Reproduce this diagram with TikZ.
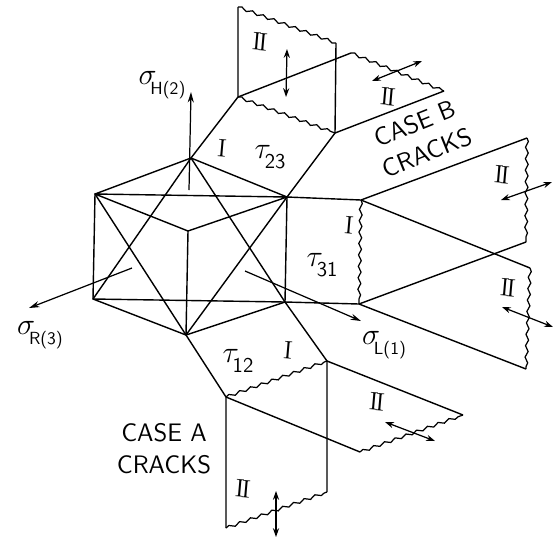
\documentclass[tikz,border=0pt]{standalone}
\usepackage{amsmath,amssymb}
\usepackage{tikz}
\usetikzlibrary{decorations.pathmorphing,arrows.meta}

\newcommand{\strs}[2]{$#1$\kern-3.5pt\raisebox{-0.8ex}{\sffamily #2}}

\begin{document}
\begin{tikzpicture}[
  x=0.02cm, y=-0.02cm,
  edge/.style={line width=0.8pt},
  crack/.style={line width=0.7pt, decorate, decoration={snake, amplitude=0.8pt, segment length=6.5pt}},
  axis/.style={line width=0.7pt, -{Stealth[length=6pt,width=3.5pt]}},
  shear/.style={line width=0.7pt, {Stealth[length=5pt,width=3.5pt]}-{Stealth[length=5pt,width=3.5pt]}},
  mode/.style={font=\Large\rmfamily, inner sep=0pt, rotate=-5},
  stress/.style={font=\LARGE, inner sep=0pt},
  case/.style={font=\Large\sffamily, align=center, inner sep=0pt}
]
  \useasboundingbox (0,0) rectangle (553,538);
  % cube
  \coordinate (T) at (191,158);
  \coordinate (LT) at (95,194);
  \coordinate (RT) at (287,197);
  \coordinate (C) at (188,231);
  \coordinate (LB) at (93,299);
  \coordinate (RB) at (285,302);
  \coordinate (B) at (186,335);
  \draw[edge] (LT) -- (T) -- (RT) -- (C) -- (LT) -- (LB) -- (B) -- (RB) -- (RT) -- (LT);
  \draw[edge] (C) -- (B);
  \draw[edge] (LB) -- (RB);
  \draw[edge] (T) -- (LB);
  \draw[edge] (T) -- (RB);
  \draw[edge] (LT) -- (B);
  \draw[edge] (RT) -- (B);
  % axes
  \coordinate (hs) at (189,190);
  \coordinate (he) at (191,92);
  \coordinate (rs) at (132,268);
  \coordinate (re) at (29,308);
  \coordinate (ls) at (245,271);
  \coordinate (le) at (361,321);
  \draw[axis] (hs) -- (he);
  \draw[axis] (rs) -- (re);
  \draw[axis] (ls) -- (le);
  % case B, upper face
  \coordinate (a1) at (238,97);
  \coordinate (a2) at (335,133);
  \coordinate (a3) at (238,7);
  \coordinate (a4) at (336,43);
  \coordinate (a5) at (351,53);
  \coordinate (a6) at (444,91);
  \draw[edge] (T) -- (a1) -- (a3);
  \draw[edge] (RT) -- (a2) -- (a4);
  \draw[edge] (a1) -- (a5);
  \draw[edge] (a2) -- (a6);
  \draw[crack] (a1) -- (a2);
  \draw[crack] (a3) -- (a4);
  \draw[crack] (a5) -- (a6);
  % case B, right face
  \coordinate (b1) at (361,200);
  \coordinate (b2) at (359,304);
  \coordinate (b3) at (527,138);
  \coordinate (b4) at (526,242);
  \coordinate (b5) at (530,268);
  \coordinate (b6) at (526,369);
  \draw[edge] (RT) -- (b1) -- (b3);
  \draw[edge] (RB) -- (b2) -- (b4);
  \draw[edge] (b1) -- (b5);
  \draw[edge] (b2) -- (b6);
  \draw[crack] (b1) -- (b2);
  \draw[crack] (b3) -- (b4);
  \draw[crack] (b5) -- (b6);
  % case A, lower face
  \coordinate (c1) at (226,397);
  \coordinate (c2) at (327,361);
  \coordinate (c3) at (226,528);
  \coordinate (c4) at (327,492);
  \coordinate (c5) at (360,452);
  \coordinate (c6) at (463,415);
  \draw[edge] (B) -- (c1) -- (c3);
  \draw[edge] (RB) -- (c2) -- (c4);
  \draw[edge] (c1) -- (c5);
  \draw[edge] (c2) -- (c6);
  \draw[crack] (c1) -- (c2);
  \draw[crack] (c3) -- (c4);
  \draw[crack] (c5) -- (c6);
  % shear arrows
  \coordinate (s1) at (287,49);
  \coordinate (s2) at (286,97);
  \coordinate (s3) at (372,81);
  \coordinate (s4) at (422,61);
  \coordinate (s5) at (501,200);
  \coordinate (s6) at (552,182);
  \coordinate (s7) at (502,307);
  \coordinate (s8) at (553,327);
  \coordinate (s9) at (385,422);
  \coordinate (s10) at (435,441);
  \coordinate (s11) at (276,491);
  \coordinate (s12) at (276,537);
  \draw[shear] (s1) -- (s2);
  \draw[shear] (s3) -- (s4);
  \draw[shear] (s5) -- (s6);
  \draw[shear] (s7) -- (s8);
  \draw[shear] (s9) -- (s10);
  \draw[shear] (s11) -- (s12);
  % labels
  \node[stress] (sigH) at (162,85) {\strs{\sigma}{\normalsize H(2)}};
  \node[stress] (sigR) at (40,335) {\strs{\sigma}{\normalsize R(3)}};
  \node[stress] (sigL) at (384,345) {\strs{\sigma}{\normalsize L(1)}};
  \node[stress] (tau23) at (270,157) {\strs{\tau}{\large 23}};
  \node[stress] (tau31) at (322,265) {\strs{\tau}{\large 31}};
  \node[stress] (tau12) at (238,361) {\strs{\tau}{\large 12}};
  \node[mode] (m1) at (222,148) {I};
  \node[mode] (m2) at (349,225) {I};
  \node[mode] (m3) at (288,350) {I};
  \node[mode] (m4) at (260,42) {I\kern-1.5pt I};
  \node[mode] (m5) at (388,97) {I\kern-1.5pt I};
  \node[mode] (m6) at (502,175) {I\kern-1.5pt I};
  \node[mode] (m7) at (508,288) {I\kern-1.5pt I};
  \node[mode] (m8) at (377,402) {I\kern-1.5pt I};
  \node[mode] (m9) at (243,489) {I\kern-1.5pt I};
  \node[case, rotate=22] (caseb) at (421,138) {CASE B\\CRACKS};
  \node[case] (casea) at (164,449) {CASE A\\CRACKS};
\end{tikzpicture}
\end{document}
